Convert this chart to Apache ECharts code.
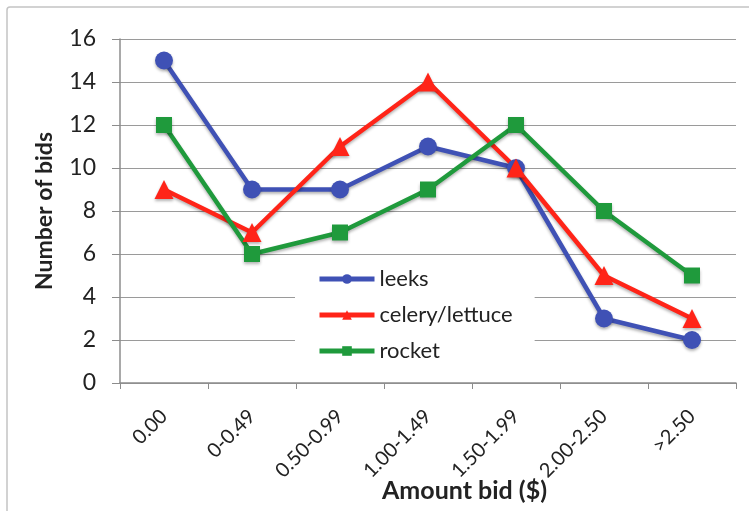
<!DOCTYPE html>
<html><head><meta charset="utf-8">
<script src="https://cdn.jsdelivr.net/npm/echarts@6/dist/echarts.min.js"></script>
<style>html,body{margin:0;padding:0;background:#fff}#c{width:749px;height:511px}</style>
</head><body><div id="c"></div>
<script>
const categories = ['0.00','0-0.49','0.50-0.99','1.00-1.49','1.50-1.99','2.00-2.50','>2.50'];
const leeks = [15, 9, 9, 11, 10, 3, 2];
const celeryLettuce = [9, 7, 11, 14, 10, 5, 3];
const rocket = [12, 6, 7, 9, 12, 8, 5];
const yTicks = [0, 2, 4, 6, 8, 10, 12, 14, 16];

const chart = echarts.init(document.getElementById('c'));
const font = 'Lato, "Open Sans", sans-serif';
function mk(name, data, color, symbol, size) {
  return {
    name, type: 'line', data, symbol, symbolSize: size,
    lineStyle: {color, width: 4.5, shadowColor: 'rgba(0,0,0,0.3)', shadowBlur: 3, shadowOffsetY: 2},
    itemStyle: {color, shadowColor: 'rgba(0,0,0,0.3)', shadowBlur: 3, shadowOffsetY: 2},
    z: 3
  };
}
chart.setOption({
  animation: false,
  graphic: [
    {type: 'rect', shape: {x: 7, y: 7, width: 760, height: 520, r: 3},
      style: {fill: 'none', stroke: '#c4c4c4', lineWidth: 1.5}, z: -1},
    {type: 'text', left: 382, top: 478,
      style: {text: 'Amount bid ($)', font: 'bold 25px ' + font, fill: '#222'}}
  ],
  grid: {left: 120, right: 13, top: 39, bottom: 128},
  legend: {
    orient: 'vertical', left: 295, top: 262, itemGap: 14, itemWidth: 55, itemHeight: 12,
    backgroundColor: '#fff', padding: [6, 22, 6, 22],
    lineStyle: {width: 5},
    textStyle: {fontFamily: font, fontSize: 22, color: '#222'},
    data: ['leeks', 'celery/lettuce', 'rocket']
  },
  xAxis: {
    type: 'category', data: categories, boundaryGap: true,
    axisLine: {lineStyle: {color: '#8c8c8c', width: 1.5}},
    axisTick: {show: true, interval: 0, length: 6, lineStyle: {color: '#8c8c8c'}},
    axisLabel: {interval: 0, rotate: 45, fontFamily: font, fontSize: 20, color: '#222', margin: 30}
  },
  yAxis: {
    type: 'value', min: 0, max: 16, interval: 2,
    name: 'Number of bids', nameLocation: 'middle', nameGap: 64, nameRotate: 90,
    nameTextStyle: {fontFamily: font, fontSize: 23, fontWeight: 'bold', color: '#222'},
    axisLine: {show: true, lineStyle: {color: '#8c8c8c', width: 1.5}},
    axisTick: {show: true, length: 8, lineStyle: {color: '#8c8c8c'}},
    axisLabel: {fontFamily: font, fontSize: 23, color: '#222', margin: 24,
      formatter: v => yTicks.includes(v) ? String(v) : ''},
    splitLine: {lineStyle: {color: '#9a9a9a', width: 1.2}}
  },
  series: [
    mk('leeks', leeks, '#3f51b5', 'circle', 18),
    mk('celery/lettuce', celeryLettuce, '#ff2418', 'triangle', 19),
    mk('rocket', rocket, '#1f9a3c', 'rect', 16)
  ]
});
</script></body></html>
